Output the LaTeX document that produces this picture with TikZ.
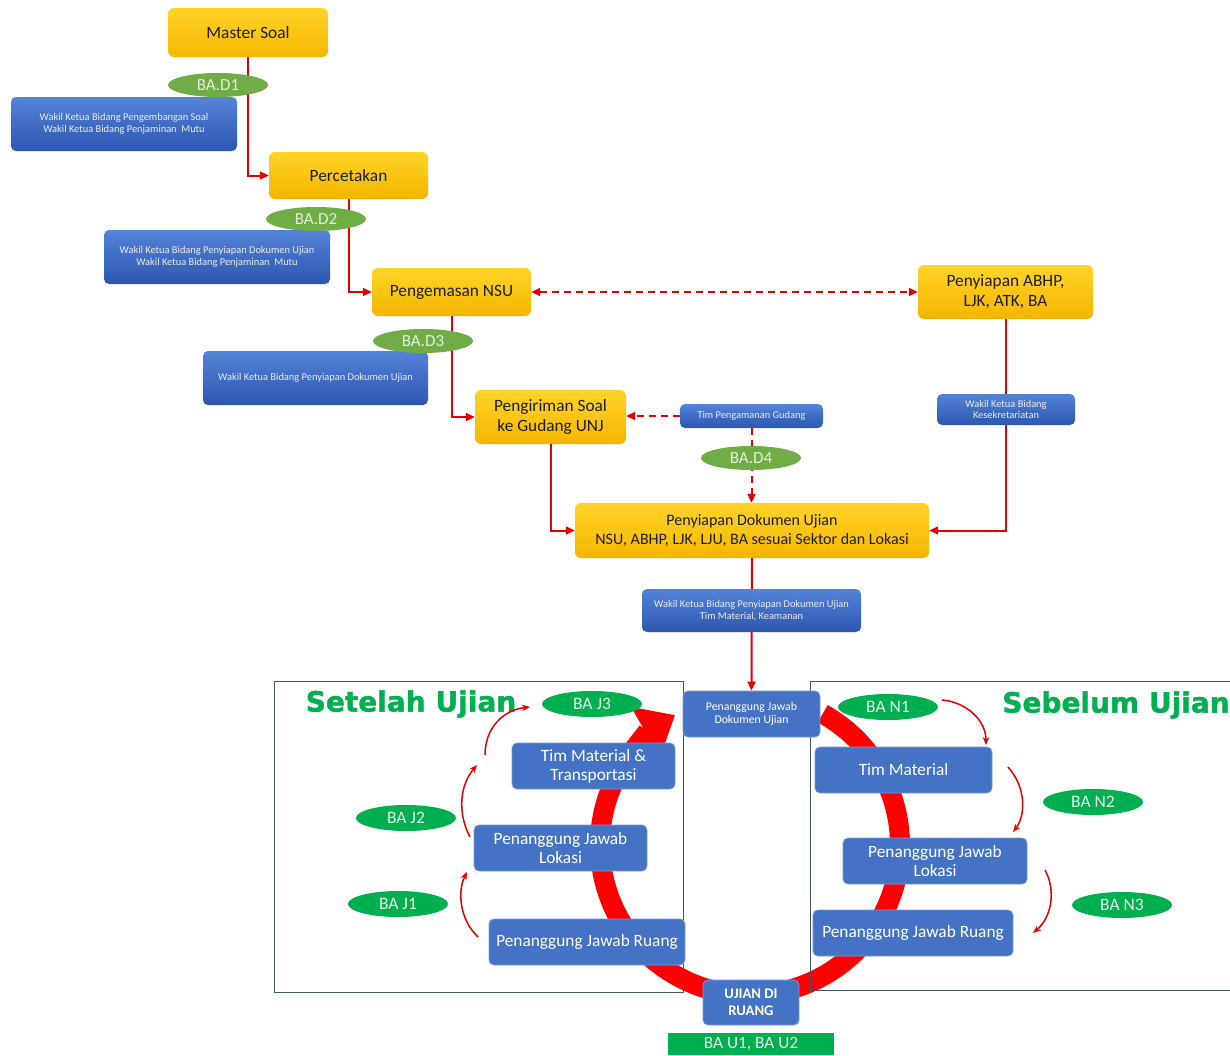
\documentclass[tikz,border=0pt]{standalone}
\usepackage{fontspec}
\setmainfont{Carlito}
\newfontfamily\titlefont[BoldFeatures={FakeBold=1.4}]{DejaVu Sans}
\usetikzlibrary{arrows.meta,shapes.geometric}
\definecolor{Y1}{RGB}{255,212,40}
\definecolor{Y2}{RGB}{244,182,0}
\definecolor{B1}{RGB}{84,132,216}
\definecolor{B2}{RGB}{44,86,176}
\definecolor{CB}{RGB}{68,114,196}
\definecolor{CBd}{RGB}{120,155,220}
\definecolor{G1}{RGB}{112,173,71}
\definecolor{G1t}{RGB}{226,240,217}
\definecolor{G2}{RGB}{0,176,80}
\definecolor{AR}{RGB}{228,0,0}
\definecolor{FR}{RGB}{68,84,106}
\begin{document}
\begin{tikzpicture}[x=1pt,y=-1pt,
  sz/.style 2 args={minimum width=#1pt, minimum height=#2pt},
  ybox/.style={rounded corners=6pt, top color=Y1, bottom color=Y2, align=center, text=black!88, font=\fontsize{17.3}{20}\selectfont, inner sep=2pt},
  bbox/.style={rounded corners=5pt, top color=B1, bottom color=B2, align=center, text=white!92!black, font=\fontsize{10.4}{12.4}\selectfont, inner sep=2pt},
  cbox/.style={rounded corners=5pt, fill=CB, draw=CBd, line width=0.8pt, align=center, text=white, font=\fontsize{17.3}{19}\selectfont, inner sep=2pt},
  gell/.style={ellipse, fill=G1, minimum width=100pt, minimum height=24pt, inner sep=0pt, text=G1t, font=\fontsize{17}{18}\selectfont},
  gellb/.style={ellipse, fill=G2, minimum width=100pt, minimum height=26pt, inner sep=0pt, text=white!92!black, font=\fontsize{17.5}{18}\selectfont},
  conn/.style={draw=AR, line width=2pt, -{Triangle[length=9pt,width=8pt]}},
  dconn/.style={conn, dash pattern=on 7pt off 5pt},
  curv/.style={draw=AR, line width=1.5pt, -{Stealth[length=8pt,width=6.5pt]}},
  frame/.style={draw=FR, line width=1pt},
  ring/.style={draw=red, line width=20pt, -{Triangle[length=34pt,width=56pt]}},
  ttl/.style={text=G2, font=\titlefont\bfseries\fontsize{28}{30}\selectfont}
]
\fill[white] (0,0) rectangle (1230,1055);
\useasboundingbox (0,0) rectangle (1230,1055);

% ---------- top flow ----------
\node[ybox, sz={160}{49}] (ms) at (248,32.5) {Master Soal};
\node[ybox, sz={159}{47}] (pc) at (348.5,175.5) {Percetakan};
\node[ybox, sz={159}{48}] (pn) at (451.5,292) {Pengemasan NSU};
\node[ybox, sz={175}{54}] (pa) at (1005.5,292) {Penyiapan ABHP,\\LJK, ATK, BA};
\node[ybox, sz={151}{54}] (pg) at (550.5,417) {Pengiriman Soal\\ke Gudang UNJ};
\node[ybox, sz={354}{55}, font=\fontsize{16}{19}\selectfont] (pd) at (752,530.5) {Penyiapan Dokumen Ujian\\NSU, ABHP, LJK, LJU, BA sesuai Sektor dan Lokasi};

\draw[conn] (ms.south) |- (pc.west);
\draw[conn] (pc.south) |- (pn.west);
\draw[conn] (pn.south) |- (pg.west);
\draw[conn] (pg.south) |- (pd.west);
\draw[conn] (pa.south) |- (pd.east);
\draw[dconn, {Triangle[length=9pt,width=8pt]}-{Triangle[length=9pt,width=8pt]}] (pn.east) -- (pa.west);

\node[bbox, sz={143}{24}] (tpg) at (751.5,416) {Tim Pengamanan Gudang};
\draw[dconn] (tpg.west) -- (tpg.west -| pg.east);
\draw[dconn] (tpg.south) -- (tpg.south |- pd.north);

\node[bbox, sz={226}{54}] (b1) at (124,124) {Wakil Ketua Bidang Pengembangan Soal\\Wakil Ketua Bidang Penjaminan~ Mutu};
\node[bbox, sz={226}{54}] (b2) at (217,257) {Wakil Ketua Bidang Penyiapan Dokumen Ujian\\Wakil Ketua Bidang Penjaminan~ Mutu};
\node[bbox, sz={225}{54}] (b3) at (315.5,378) {Wakil Ketua Bidang Penyiapan Dokumen Ujian};
\node[bbox, sz={138}{31}, font=\fontsize{10.4}{11.5}\selectfont] (kes) at (1006,409.5) {Wakil Ketua Bidang\\Kesekretariatan};

\node[gell] (d1) at (218,85) {BA.D1};
\node[gell] (d2) at (316,219) {BA.D2};
\node[gell] (d3) at (423,341) {BA.D3};
\node[gell] (d4) at (751,458) {BA.D4};

% ---------- cycle ----------
\coordinate (rs) at (822.7,713.8);
\draw[ring] (rs) arc[start angle=61, end angle=-240, radius=150pt];

\draw[frame] (274,681) rectangle (683,992);
\draw[frame] (810,681) rectangle (1232,990);

\node[cbox, sz={137}{46}, font=\fontsize{11.8}{13.5}\selectfont] (dok) at (751.5,714) {Penanggung Jawab\\Dokumen Ujian};
\draw[conn] (pd.south) -- (dok.north);
\node[bbox, sz={219}{43}] (b4) at (751.5,610.5) {Wakil Ketua Bidang Penyiapan Dokumen Ujian\\Tim Material, Keamanan};

\node[cbox, sz={96}{45}, font=\bfseries\fontsize{14.7}{17}\selectfont] (uji) at (751,1002.5) {UJIAN DI\\RUANG};
\node[fill=G2, sz={166}{22}, inner sep=0pt, text=white!92!black, font=\fontsize{17.3}{18}\selectfont] (bau) at (751,1044) {BA U1, BA U2};

% left: Setelah Ujian
\node[ttl] (tl) at (411,704) {Setelah Ujian};
\node[cbox, sz={163}{46}] (tmt) at (593.5,766) {Tim Material \&\\Transportasi};
\node[cbox, sz={173}{46}] (pjl) at (560.5,848) {Penanggung Jawab\\Lokasi};
\node[cbox, sz={196}{46}] (pjr) at (587,942) {Penanggung Jawab Ruang};
\node[gellb] (j3) at (592,704) {BA J3};
\node[gellb] (j2) at (406,818) {BA J2};
\node[gellb] (j1) at (398,904) {BA J1};

\coordinate (a1s) at (478,937); \coordinate (a1e) at (467,872);
\coordinate (a2s) at (470,837); \coordinate (a2e) at (477,765);
\coordinate (a3s) at (485,755); \coordinate (a3e) at (530,707);
\draw[curv] (a1s) .. controls (460,920) and (457,892) .. (a1e);
\draw[curv] (a2s) .. controls (457,812) and (460,785) .. (a2e);
\draw[curv] (a3s) .. controls (485,728) and (503,710) .. (a3e);

% right: Sebelum Ujian
\node[ttl] (tr) at (1116,705) {Sebelum Ujian};
\node[cbox, sz={177}{46}] (tm) at (903.5,770) {Tim Material};
\node[cbox, sz={184}{46}] (pjl2) at (935,861) {Penanggung Jawab\\Lokasi};
\node[cbox, sz={200}{46}] (pjr2) at (913,933) {Penanggung Jawab Ruang};
\node[gellb] (n1) at (888,707) {BA N1};
\node[gellb] (n2) at (1093,802) {BA N2};
\node[gellb] (n3) at (1122,905) {BA N3};

\coordinate (b1s) at (942,700); \coordinate (b1e) at (986,745);
\coordinate (b2s) at (1008,767); \coordinate (b2e) at (1013,832);
\coordinate (b3s) at (1045,870); \coordinate (b3e) at (1033,933);
\draw[curv] (b1s) .. controls (966,702) and (986,720) .. (b1e);
\draw[curv] (b2s) .. controls (1026,787) and (1026,815) .. (b2e);
\draw[curv] (b3s) .. controls (1056,890) and (1052,917) .. (b3e);
\end{tikzpicture}
\end{document}
